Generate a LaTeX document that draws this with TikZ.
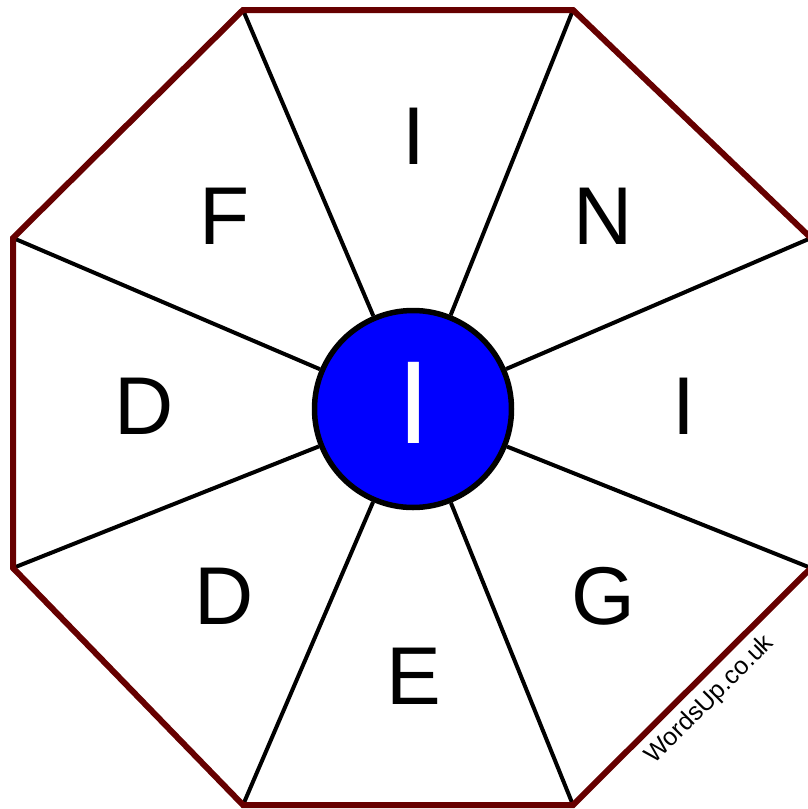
\documentclass[tikz,border=0pt]{standalone}
\usepackage{fontspec}
\setmainfont{Liberation Sans}
\definecolor{rimred}{HTML}{660000}
\definecolor{hubblue}{HTML}{0000FF}
\tikzset{
	letter/.style={font=\fontsize{82}{82}\selectfont, inner sep=0pt},
	spoke/.style={line width=4pt},
}

\begin{document}
\begin{tikzpicture}[x=1pt,y=-1pt]
	\useasboundingbox (0,0) rectangle (808,809);
	% Corners of the octagon
	\coordinate (v1) at (243,10);
	\coordinate (v2) at (573,10);
	\coordinate (v3) at (811,238);
	\coordinate (v4) at (811,568);
	\coordinate (v5) at (573,805);
	\coordinate (v6) at (243,805);
	\coordinate (v7) at (13,568);
	\coordinate (v8) at (13,238);
	% Centre disc
	\node[circle, line width=5.5pt, minimum size=197pt, inner sep=0pt] (hub) at (413,409) {};
	% Spokes
	\draw[spoke] (v1) -- (hub);
	\draw[spoke] (v2) -- (hub);
	\draw[spoke] (v3) -- (hub);
	\draw[spoke] (v4) -- (hub);
	\draw[spoke] (v5) -- (hub);
	\draw[spoke] (v6) -- (hub);
	\draw[spoke] (v7) -- (hub);
	\draw[spoke] (v8) -- (hub);
	\draw[line width=5.5pt, fill=hubblue] (hub.center) circle (98.5);
	% Rim
	\draw[rimred, line width=6pt, line join=miter] (v1) -- (v2) -- (v3) -- (v4) -- (v5) -- (v6) -- (v7) -- (v8) -- cycle;
	% Letters
	\node[letter] (top) at (414,136) {I};
	\node[letter] (topright) at (603,216) {N};
	\node[letter] (right) at (684,406) {I};
	\node[letter] (botright) at (603,596) {G};
	\node[letter] (bottom) at (414,676) {E};
	\node[letter] (botleft) at (224,596) {D};
	\node[letter] (left) at (144,406) {D};
	\node[letter] (topleft) at (225,216) {F};
	\node[font=\fontsize{118}{118}\selectfont, text=white, inner sep=0pt] (mid) at (414,402.5) {I};
	% Site name
	\node[rotate=45, font=\fontsize{25}{25}\selectfont] (site) at (710,700) {WordsUp.co.uk};
\end{tikzpicture}
\end{document}
